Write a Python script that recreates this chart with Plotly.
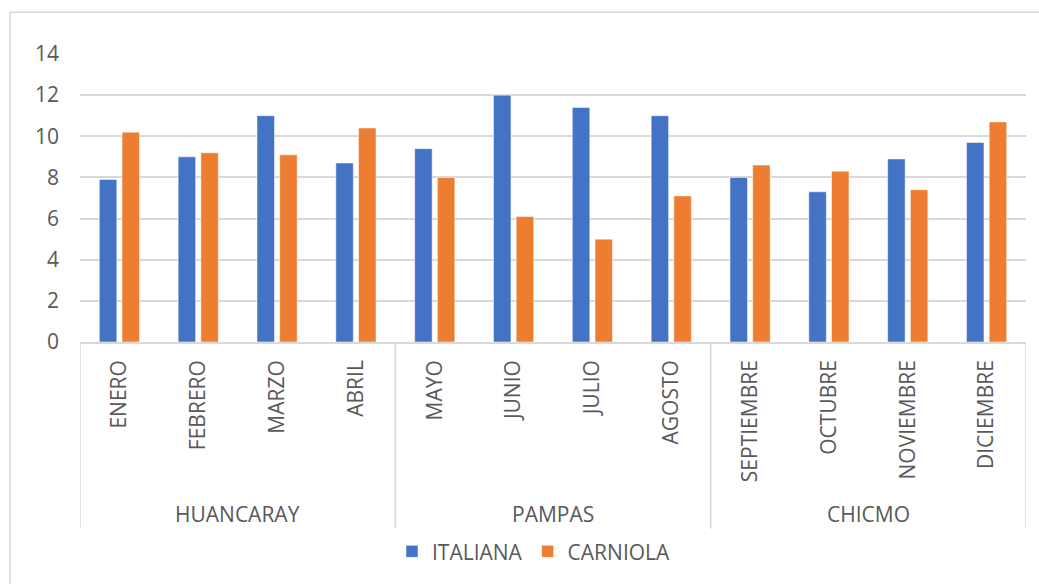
import plotly.graph_objects as go

# Months, apiary groups and measurements per bee race
months = ["ENERO", "FEBRERO", "MARZO", "ABRIL", "MAYO", "JUNIO",
          "JULIO", "AGOSTO", "SEPTIEMBRE", "OCTUBRE", "NOVIEMBRE", "DICIEMBRE"]
groups = ["HUANCARAY", "PAMPAS", "CHICMO"]
months_per_group = 4
italiana = [7.9, 9.0, 11.0, 8.7, 9.4, 12.0, 11.4, 11.0, 8.0, 7.3, 8.9, 9.7]
carniola = [10.2, 9.2, 9.1, 10.4, 8.0, 6.1, 5.0, 7.1, 8.6, 8.3, 7.4, 10.7]
y_ticks = [0, 2, 4, 6, 8, 10, 12, 14]

FONT = "Open Sans"
TEXT = "#595959"
GRID = "#D9D9D9"
FS = 21

fig = go.Figure()
fig.add_trace(go.Bar(x=list(range(len(months))), y=italiana, name="ITALIANA",
                     marker=dict(color="#4472C4", line=dict(color="rgba(255,255,255,0.5)", width=1))))
fig.add_trace(go.Bar(x=list(range(len(months))), y=carniola, name="CARNIOLA",
                     marker=dict(color="#ED7D31", line=dict(color="rgba(255,255,255,0.5)", width=1))))

# Group dividers below the category axis
shapes = []
for g in range(len(groups) + 1):
    xb = g * months_per_group - 0.5
    shapes.append(dict(type="line", xref="x", yref="paper", x0=xb, x1=xb, y0=0, y1=-0.648,
                       line=dict(color=GRID, width=1.5)))
# Outer chart frame
shapes.append(dict(type="rect", xref="paper", yref="paper", x0=-0.074, x1=1.05, y0=-0.9, y1=1.1448,
                   line=dict(color=GRID, width=1.5), fillcolor="rgba(0,0,0,0)", layer="below"))

annotations = []
for g, name in enumerate(groups):
    xc = g * months_per_group + (months_per_group - 1) / 2
    annotations.append(dict(x=xc, y=-0.597, xref="x", yref="paper", text=name, showarrow=False,
                            xanchor="center", yanchor="middle",
                            font=dict(family=FONT, size=FS, color=TEXT)))

fig.update_layout(
    width=1039, height=584,
    margin=dict(l=80, r=13, t=54, b=240),
    paper_bgcolor="white", plot_bgcolor="white",
    barmode="group", bargap=0.424, bargroupgap=0.23,
    font=dict(family=FONT, size=FS, color=TEXT),
    shapes=shapes, annotations=annotations,
    showlegend=True,
    legend=dict(orientation="h", x=0.3298, xanchor="left", y=-0.728, yanchor="middle",
                font=dict(family=FONT, size=FS, color=TEXT), itemwidth=30,
                traceorder="normal"),
    xaxis=dict(tickmode="array", tickvals=list(range(len(months))), ticktext=months,
               tickangle=-90, range=[-0.5, len(months) - 0.5],
               showgrid=False, showline=True, linecolor=GRID, linewidth=1.5,
               ticks="", ticklabelstandoff=8, zeroline=False,
               tickfont=dict(family=FONT, size=FS, color=TEXT)),
    yaxis=dict(range=[0, 14], tickvals=y_ticks, showgrid=True, gridcolor=GRID, gridwidth=1.5,
               zeroline=False, showline=False, ticks="", ticklabelstandoff=20,
               tickfont=dict(family=FONT, size=FS, color=TEXT)),
)

fig.write_html("out.html")
